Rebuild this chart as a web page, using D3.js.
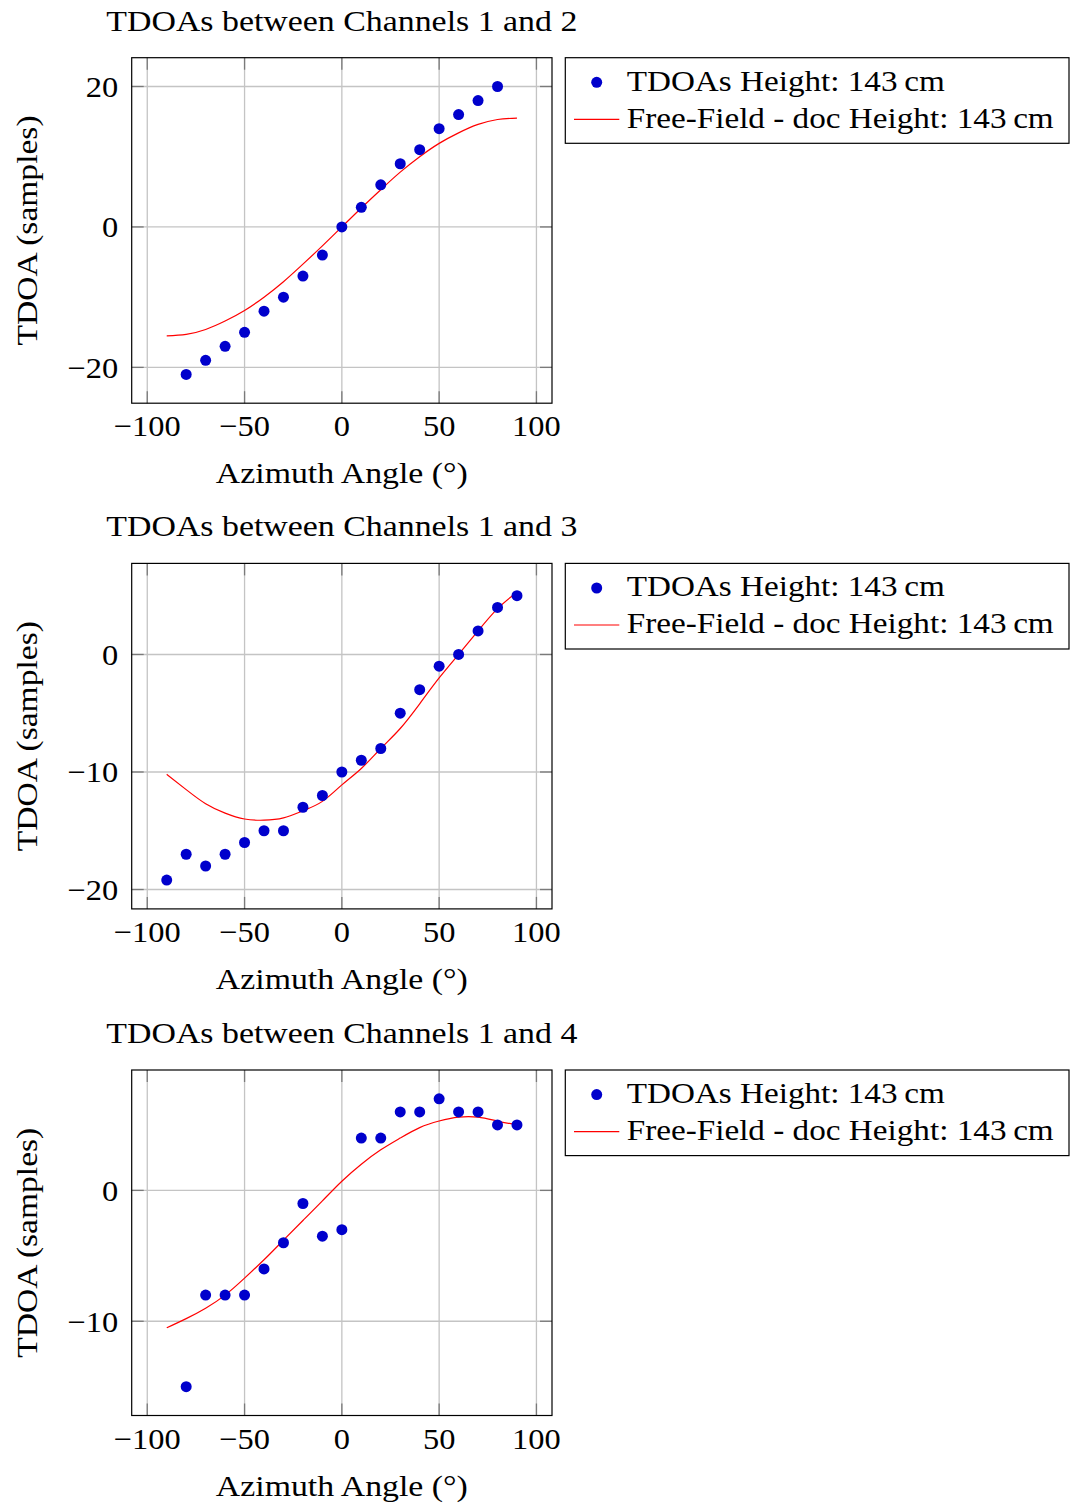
<!DOCTYPE html>
<html><head><meta charset="utf-8">
<script src="https://cdn.jsdelivr.net/npm/d3@7"></script>
<style>
body{margin:0;background:#fff}
svg text{font-family:"Liberation Serif","DejaVu Serif",serif;fill:#000}
</style>
</head><body>
<svg id="chart" width="1073" height="1503"></svg>
<script>
// ---------- data ----------
const titles = ["TDOAs between Channels 1 and 2", "TDOAs between Channels 1 and 3", "TDOAs between Channels 1 and 4"];
const xLabel = "Azimuth Angle (°)";
const yLabel = "TDOA (samples)";
const legendMeas = "TDOAs Height:  143\u2009cm";
const legendModel = "Free-Field - doc Height:  143\u2009cm";

const xTicks = [-100, -50, 0, 50, 100];
const yTicks12 = [-20, 0, 20];
const yTicks13 = [-20, -10, 0];
const yTicks14 = [-10, 0];

const modelAngles = [-90, -80, -70, -60, -50, -40, -30, -20, -10, 0, 10, 20, 30, 40, 50, 60, 70, 80, 90];

const measAngles12 = [-80, -70, -60, -50, -40, -30, -20, -10, 0, 10, 20, 30, 40, 50, 60, 70, 80];
const measTdoa12   = [-21, -19, -17, -15, -12, -10, -7, -4, 0, 2.8, 6, 9, 11, 14, 16, 18, 20];
const modelTdoa12  = [-15.5, -15.3, -14.6, -13.4, -11.9, -10.0, -7.8, -5.3, -2.7, 0, 2.7, 5.3, 7.8, 10.0, 11.9, 13.4, 14.6, 15.3, 15.5];

const measAngles13 = [-90, -80, -70, -60, -50, -40, -30, -20, -10, 0, 10, 20, 30, 40, 50, 60, 70, 80, 90];
const measTdoa13   = [-19.2, -17, -18, -17, -16, -15, -15, -13, -12, -10, -9, -8, -5, -3, -1, 0, 2, 4, 5];
const modelTdoa13  = [-10.2, -11.5, -12.7, -13.5, -14.0, -14.1, -13.9, -13.3, -12.5, -11.1, -9.7, -8.0, -6.3, -4.2, -2.0, 0, 2.0, 3.9, 5.3];

const measAngles14 = [-80, -70, -60, -50, -40, -30, -20, -10, 0, 10, 20, 30, 40, 50, 60, 70, 80, 90];
const measTdoa14   = [-15, -8, -8, -8, -6, -4, -1, -3.5, -3, 4, 4, 6, 6, 7, 6, 6, 5, 5];
const modelTdoa14  = [-10.5, -9.8, -9.0, -8.0, -6.7, -5.3, -3.8, -2.3, -0.8, 0.7, 2.0, 3.1, 4.0, 4.8, 5.3, 5.6, 5.6, 5.3, 5.0];

// ---------- layout ----------
const panels = [
  {title: titles[0], mx: measAngles12, my: measTdoa12, line: modelTdoa12, yTicks: yTicks12, top: 57.7},
  {title: titles[1], mx: measAngles13, my: measTdoa13, line: modelTdoa13, yTicks: yTicks13, top: 563.4},
  {title: titles[2], mx: measAngles14, my: measTdoa14, line: modelTdoa14, yTicks: yTicks14, top: 1070}
];
const L = 131.7, R = 552, PH = 345.5;
const FS = 29.5;
const TICK = 12;
const svg = d3.select("#chart");
const fmt = d => d < 0 ? "\u2212" + Math.abs(d) : String(d);

function widen(sel, f) {
  sel.each(function () {
    const w = this.getComputedTextLength();
    d3.select(this).attr("textLength", w * f).attr("lengthAdjust", "spacingAndGlyphs");
  });
}

panels.forEach(p => {
  const g = svg.append("g");
  const allX = p.mx.concat(modelAngles);
  const allY = p.my.concat(p.line);
  const [x0, x1] = d3.extent(allX);
  const [y0, y1] = d3.extent(allY);
  const px = (x1 - x0) * 0.1, py = (y1 - y0) * 0.1;
  const x = d3.scaleLinear().domain([x0 - px, x1 + px]).range([L, R]);
  const y = d3.scaleLinear().domain([y0 - py, y1 + py]).range([p.top + PH, p.top]);
  const T = p.top, B = p.top + PH;

  // grid
  g.selectAll(".gx").data(xTicks).join("line")
    .attr("x1", d => x(d)).attr("x2", d => x(d)).attr("y1", T).attr("y2", B)
    .attr("stroke", "#c4c4c4").attr("stroke-width", 1.3);
  g.selectAll(".gy").data(p.yTicks).join("line")
    .attr("y1", d => y(d)).attr("y2", d => y(d)).attr("x1", L).attr("x2", R)
    .attr("stroke", "#c4c4c4").attr("stroke-width", 1.3);

  // ticks on all sides (inside)
  const tk = "#7a7a7a";
  xTicks.forEach(d => {
    g.append("line").attr("x1", x(d)).attr("x2", x(d)).attr("y1", B).attr("y2", B - TICK).attr("stroke", tk).attr("stroke-width", 1.3);
    g.append("line").attr("x1", x(d)).attr("x2", x(d)).attr("y1", T).attr("y2", T + TICK).attr("stroke", tk).attr("stroke-width", 1.3);
  });
  p.yTicks.forEach(d => {
    g.append("line").attr("y1", y(d)).attr("y2", y(d)).attr("x1", L).attr("x2", L + TICK).attr("stroke", tk).attr("stroke-width", 1.3);
    g.append("line").attr("y1", y(d)).attr("y2", y(d)).attr("x1", R).attr("x2", R - TICK).attr("stroke", tk).attr("stroke-width", 1.3);
  });

  // model line
  const lineGen = d3.line().x((d, i) => x(modelAngles[i])).y(d => y(d)).curve(d3.curveNatural);
  g.append("path").attr("d", lineGen(p.line)).attr("fill", "none").attr("stroke", "#ff0000").attr("stroke-width", 1.2);

  // measurements
  g.selectAll(".pt").data(p.my).join("circle")
    .attr("cx", (d, i) => x(p.mx[i])).attr("cy", d => y(d)).attr("r", 5.5)
    .attr("fill", "#0000cc");

  // box
  g.append("rect").attr("x", L).attr("y", T).attr("width", R - L).attr("height", PH)
    .attr("fill", "none").attr("stroke", "#000").attr("stroke-width", 1.2);

  // tick labels
  const xl = g.selectAll(".xl").data(xTicks).join("text")
    .attr("x", d => x(d)).attr("y", B + 33).attr("text-anchor", "middle")
    .attr("font-size", FS).text(fmt);
  widen(xl, 1.1);
  const yl = g.selectAll(".yl").data(p.yTicks).join("text")
    .attr("x", L - 13.4).attr("y", d => y(d) + 10.5).attr("text-anchor", "end")
    .attr("font-size", FS).text(fmt);
  widen(yl, 1.1);

  // axis labels
  g.append("text").attr("x", (L + R) / 2).attr("y", B + 80).attr("text-anchor", "middle")
    .attr("font-size", FS).attr("textLength", 252).attr("lengthAdjust", "spacingAndGlyphs").text(xLabel);
  g.append("text").attr("transform", `translate(36.7,${(T + B) / 2}) rotate(-90)`)
    .attr("text-anchor", "middle").attr("font-size", FS)
    .attr("textLength", 230).attr("lengthAdjust", "spacingAndGlyphs").text(yLabel);

  // title
  g.append("text").attr("x", (L + R) / 2).attr("y", T - 27).attr("text-anchor", "middle")
    .attr("font-size", FS).attr("textLength", 471).attr("lengthAdjust", "spacingAndGlyphs").text(p.title);

  // legend
  const lx = 565.3, lw = 503.7, lh = 85.6;
  g.append("rect").attr("x", lx).attr("y", T).attr("width", lw).attr("height", lh)
    .attr("fill", "#fff").attr("stroke", "#000").attr("stroke-width", 1.2);
  g.append("circle").attr("cx", 596.7).attr("cy", T + 24.6).attr("r", 5.5).attr("fill", "#0000cc");
  g.append("line").attr("x1", 574).attr("x2", 619.3).attr("y1", T + 61.6).attr("y2", T + 61.6)
    .attr("stroke", "#ff0000").attr("stroke-width", 1.2);
  g.append("text").attr("x", 626.7).attr("y", T + 33).attr("font-size", FS)
    .attr("textLength", 318).attr("lengthAdjust", "spacingAndGlyphs").text(legendMeas);
  g.append("text").attr("x", 626.7).attr("y", T + 70).attr("font-size", FS)
    .attr("textLength", 427).attr("lengthAdjust", "spacingAndGlyphs").text(legendModel);
});
</script>
</body></html>
